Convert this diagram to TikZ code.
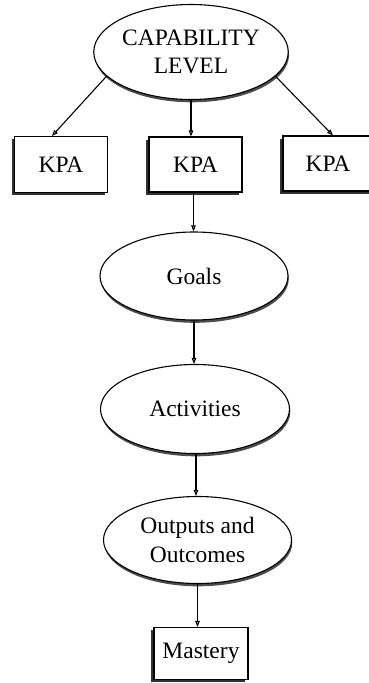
\documentclass[tikz,border=0pt]{standalone}
\usepackage{fontspec}
\setmainfont{Liberation Serif}
\usetikzlibrary{shapes.geometric,shadows,arrows.meta}
\begin{document}
\begin{tikzpicture}[x=1pt,y=-1pt,
  every node/.style={font=\fontsize{23.5}{28.5}\selectfont, align=center, inner sep=0pt},
  oval/.style={ellipse, draw=black, line width=1.1pt, fill=white,
    drop shadow={shadow xshift=0.8pt, shadow yshift=-2.8pt, opacity=1, fill=black!70}},
  kpabox/.style={rectangle, draw=black, line width=1.1pt, fill=white,
    drop shadow={shadow xshift=-2.6pt, shadow yshift=-2.6pt, opacity=1, fill=black!80}},
  arr/.style={-{Triangle[open,length=6pt,width=4.5pt]}, line width=1.1pt}]
  \useasboundingbox (0,0) rectangle (369,683);
  \begin{scope}
  \clip (0,0) rectangle (369,683);

  % top level
  \node[oval, minimum width=189pt, minimum height=95pt] (cap) at (191,52) {CAPABILITY\\LEVEL};

  % key process areas
  \node[kpabox, minimum width=93pt, minimum height=56pt] (kpa1) at (61,164.5) {KPA};
  \node[kpabox, minimum width=93pt, minimum height=55pt] (kpa2) at (195.5,164.5) {KPA};
  \node[kpabox, minimum width=90pt, minimum height=55pt] (kpa3) at (328,163.5) {KPA};

  % chain below the middle KPA
  \node[oval, minimum width=188pt, minimum height=88pt] (goals) at (194,276) {Goals};
  \node[oval, minimum width=189pt, minimum height=89pt] (acts) at (195,409) {Activities};
  \node[oval, minimum width=188pt, minimum height=87pt] (outs) at (197.5,540) {Outputs and\\Outcomes};
  \node[kpabox, minimum width=94pt, minimum height=52pt] (mast) at (201,653.5) {Mastery};

  % connectors
  \draw[arr] (cap.196) -- ([xshift=-9pt]kpa1.north);
  \draw[arr] (cap.south) -- (cap.south |- kpa2.north);
  \draw[arr] (cap.-16) -- ([xshift=5pt]kpa3.north);
  \draw[arr] ([xshift=-2pt]kpa2.south) -- ([xshift=-2pt]kpa2.south |- goals.north);
  \draw[arr] (goals.south) -- (goals.south |- acts.north);
  \draw[arr] ([xshift=1pt]acts.south) -- ([xshift=1pt]acts.south |- outs.north);
  \draw[arr] (outs.south) -- (outs.south |- mast.north);
  \end{scope}
\end{tikzpicture}
\end{document}
